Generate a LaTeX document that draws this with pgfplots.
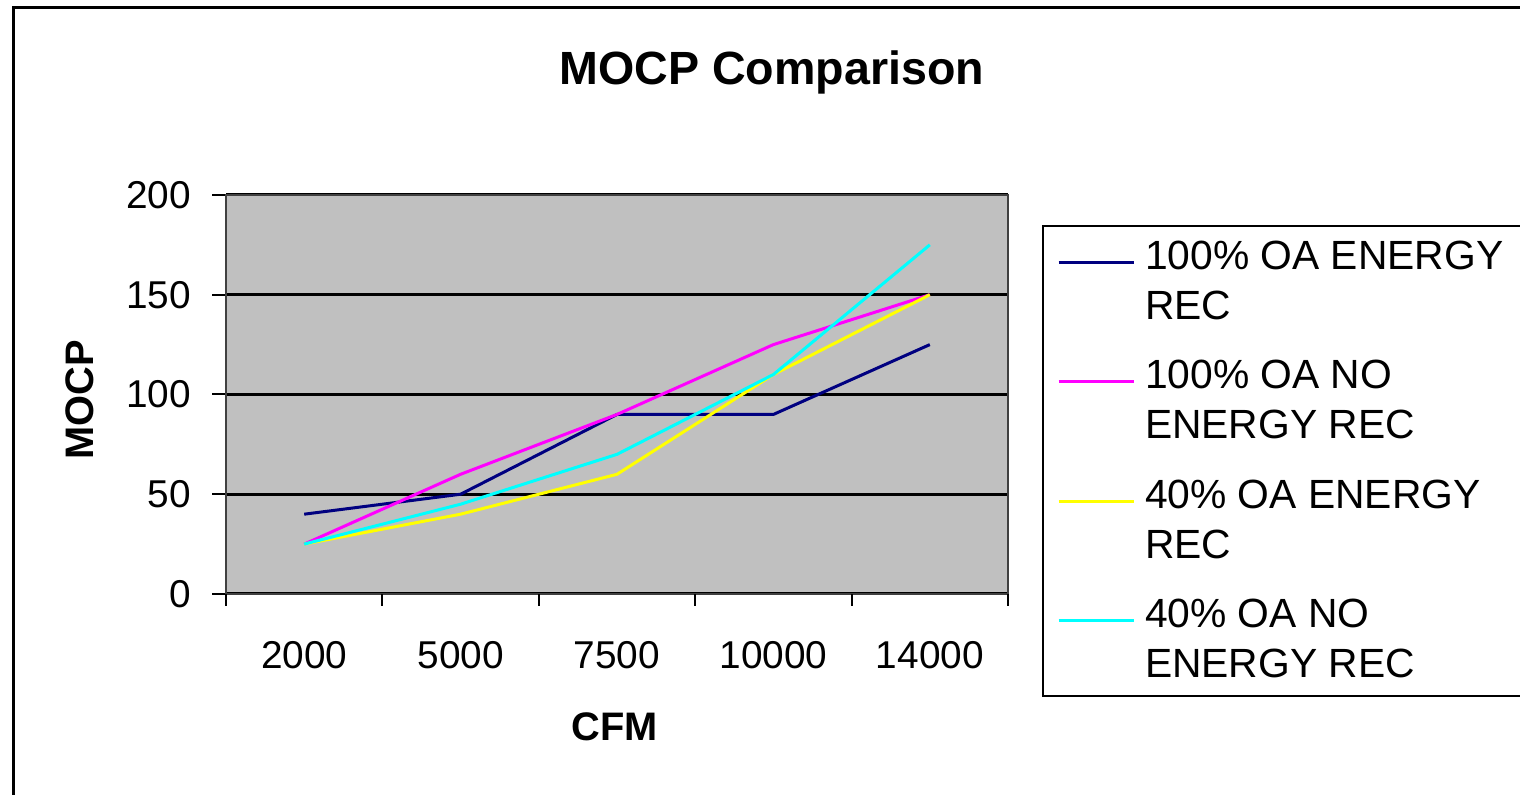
\documentclass[border=0pt]{standalone}
\usepackage{fontspec}
\setmainfont{Liberation Sans}
\usepackage{pgfplots}
\pgfplotsset{compat=1.18}
\definecolor{navyc}{HTML}{000080}
\definecolor{magc}{HTML}{FF00FF}
\definecolor{yelc}{HTML}{FFFF00}
\definecolor{cyac}{HTML}{00FFFF}
\definecolor{plotgray}{HTML}{C0C0C0}
\definecolor{axisgray}{HTML}{404040}
\begin{document}
\begin{tikzpicture}
\useasboundingbox (0,0) rectangle (760pt,397.5pt);
\draw[line width=1.5pt] (6.5pt,-5pt) -- (6.5pt,393.7pt) -- (765pt,393.7pt);
\begin{axis}[
  at={(113pt,100.5pt)}, anchor=south west, scale only axis,
  width=391pt, height=199.5pt,
  xmin=-0.5, xmax=4.5, ymin=0, ymax=200,
  axis background/.style={fill=plotgray},
  axis line style={draw=axisgray, line width=1pt},
  xtick pos=lower, ytick pos=left,
  xtick={0,...,4}, xticklabels={2000,5000,7500,10000,14000},
  x tick style={draw=none},
  extra x ticks={-0.5,0.5,1.5,2.5,3.5,4.5},
  extra x tick labels={},
  extra x tick style={x tick style={draw=black, line width=1pt}, major tick length=6pt},
  ytick={0,50,...,200},
  y tick style={draw=black, line width=1pt},
  major tick length=7pt,
  tick align=outside,
  ymajorgrids, grid style={black, line width=1.5pt},
  tick label style={font=\fontsize{19.4}{23}\selectfont},
  xticklabel style={yshift=-13pt},
  yticklabel style={xshift=-7pt},
  /pgf/number format/assume math mode=true,
  title={MOCP Comparison},
  title style={font=\bfseries\fontsize{23.3}{28}\selectfont, at={(axis description cs:0.698,1.278)}, anchor=center},
  xlabel={CFM},
  xlabel style={font=\bfseries\fontsize{19.9}{24}\selectfont, at={(axis description cs:0.497,-0.333)}, anchor=center},
  ylabel={MOCP},
  ylabel style={font=\bfseries\fontsize{19.9}{24}\selectfont, at={(axis description cs:-0.187,0.486)}, anchor=center, rotate=0},
  legend style={at={(1.0435,0.9248)}, anchor=north west, draw=black, line width=1pt,
    font=\fontsize{20.4}{25}\selectfont, inner xsep=7pt, inner ysep=5.5pt,
    row sep=15pt, column sep=3pt,
    cells={anchor=base west, align=left, inner sep=0pt}},
  legend image code/.code={\draw[#1, line width=1.5pt] (0pt,25pt+0.36em) -- (37.5pt,25pt+0.36em);},
  every axis plot/.append style={line width=1.5pt, mark=none},
]
\addplot[navyc] coordinates {(0,40) (1,50) (2,90) (3,90) (4,125)};
\addplot[magc] coordinates {(0,25) (1,60) (2,90) (3,125) (4,150)};
\addplot[yelc] coordinates {(0,25) (1,40) (2,60) (3,110) (4,150)};
\addplot[cyac] coordinates {(0,25) (1,45) (2,70) (3,110) (4,175)};
\legend{100\% OA ENERGY\\REC, 100\% OA NO\\ENERGY REC, 40\% OA ENERGY\\REC, 40\% OA NO\\ENERGY REC}
\end{axis}
\end{tikzpicture}
\end{document}
